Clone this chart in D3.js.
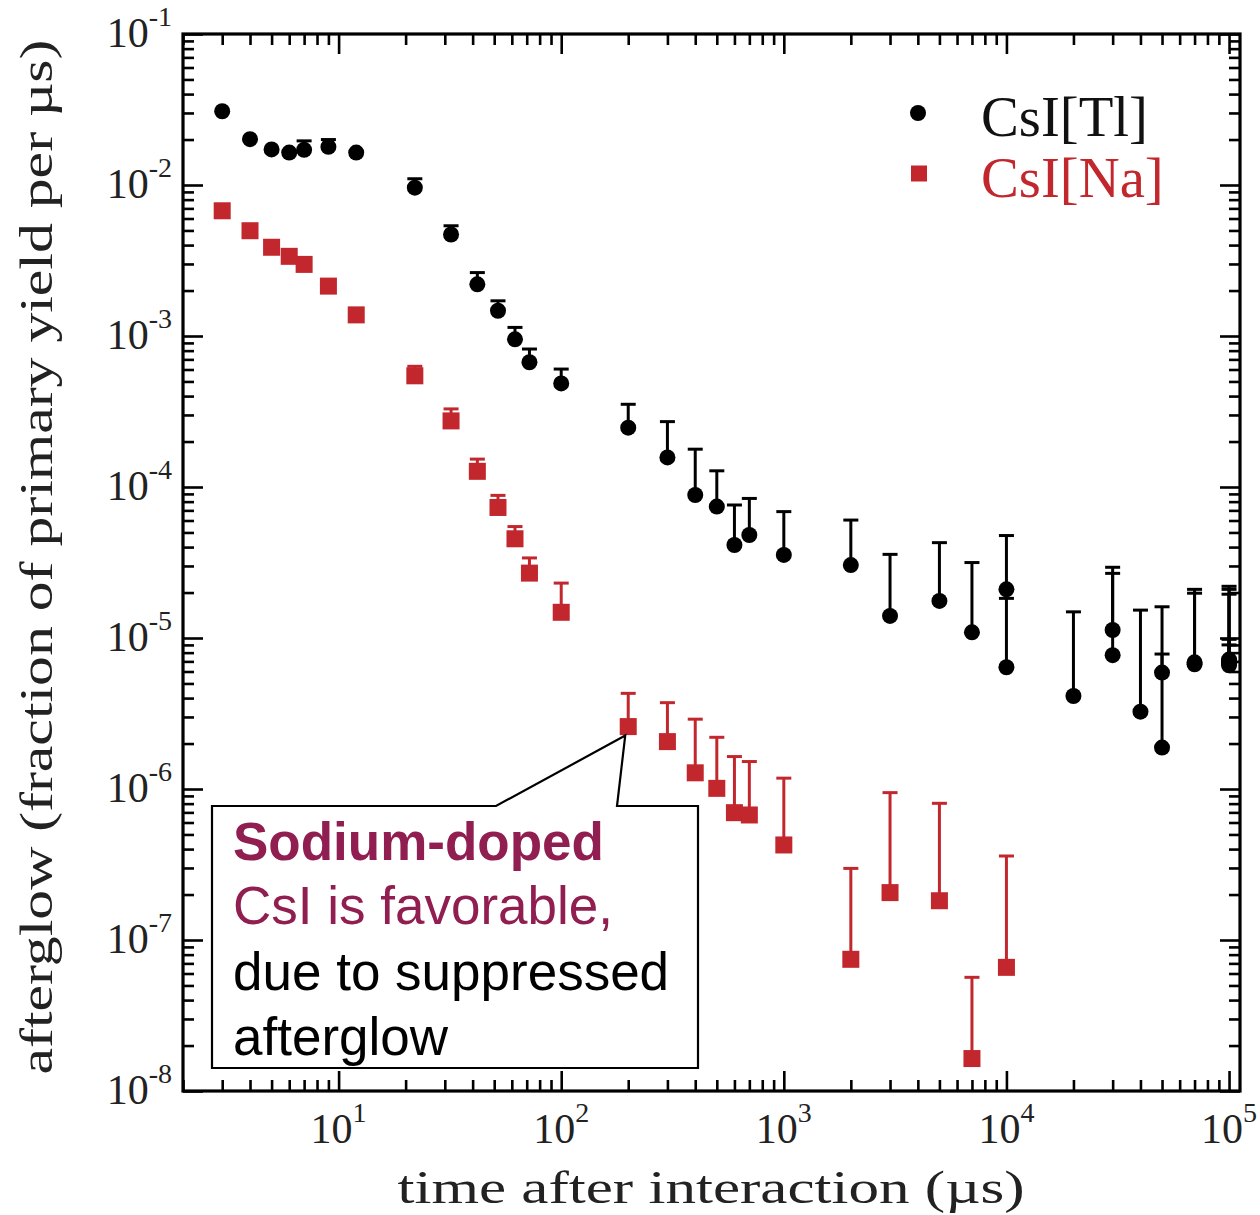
<!DOCTYPE html>
<html>
<head>
<meta charset="utf-8">
<script src="https://cdn.jsdelivr.net/npm/d3@7"></script>
<style>
  html, body { margin: 0; padding: 0; background: #fff; }
  svg { display: block; }
</style>
</head>
<body>
<svg id="chart" width="1260" height="1215"></svg>
<script>
// ---------------- data ----------------
const tlTime = [3,4,5,6,7,9,12,22,32,42,52,62,72,100,200,300,400,500,600,700,1000,2000,3000,5000,7000,10000,10000,20000,30000,30000,40000,50000,50000,70000,70000,100000,100000,100000,100000,100000];
const tlValue = [3.08e-2,2.01e-2,1.72e-2,1.64e-2,1.71e-2,1.79e-2,1.64e-2,9.6e-3,4.7e-3,2.2e-3,1.47e-3,9.5e-4,6.7e-4,4.85e-4,2.47e-4,1.57e-4,8.85e-5,7.42e-5,4.13e-5,4.81e-5,3.55e-5,3.04e-5,1.4e-5,1.76e-5,1.09e-5,2.1e-5,6.4e-6,4.13e-6,1.13e-5,7.7e-6,3.25e-6,5.9e-6,1.88e-6,6.7e-6,6.9e-6,7.0e-6,6.8e-6,7.2e-6,6.6e-6,7.0e-6];
const tlUpper = [null,null,null,null,1.96e-2,2.0e-2,null,1.1e-2,5.37e-3,2.63e-3,1.71e-3,1.14e-3,8.2e-4,6.04e-4,3.53e-4,2.71e-4,1.78e-4,1.28e-4,7.6e-5,8.4e-5,6.87e-5,6.04e-5,3.58e-5,4.28e-5,3.16e-5,4.77e-5,1.83e-5,1.49e-5,2.94e-5,2.68e-5,1.53e-5,1.61e-5,7.83e-6,2.1e-5,1.98e-5,2.2e-5,2.1e-5,1.95e-5,9.8e-6,9.0e-6];

const naTime = [3,4,5,6,7,9,12,22,32,42,52,62,72,100,200,300,400,500,600,700,1000,2000,3000,5000,7000,10000];
const naValue = [6.75e-3,4.98e-3,3.87e-3,3.37e-3,2.98e-3,2.14e-3,1.38e-3,5.45e-4,2.74e-4,1.27e-4,7.32e-5,4.54e-5,2.69e-5,1.48e-5,2.59e-6,2.06e-6,1.28e-6,1.01e-6,6.97e-7,6.73e-7,4.26e-7,7.45e-8,2.06e-7,1.82e-7,1.64e-8,6.59e-8];
const naUpper = [null,null,null,null,null,null,null,6.3e-4,3.29e-4,1.53e-4,8.8e-5,5.47e-5,3.39e-5,2.31e-5,4.3e-6,3.73e-6,2.9e-6,2.2e-6,1.64e-6,1.52e-6,1.18e-6,2.98e-7,9.46e-7,8.04e-7,5.66e-8,3.6e-7];

const xMajorExp = [1,2,3,4,5];
const yMajorExp = [-1,-2,-3,-4,-5,-6,-7,-8];
const seriesNames = ["CsI[Tl]", "CsI[Na]"];
const xTitle = "time after interaction (\u00b5s)";
const yTitle = "afterglow (fraction of primary yield per \u00b5s)";
const noteLines = ["Sodium-doped", "CsI is favorable,", "due to suppressed", "afterglow"];

// ---------------- layout ----------------
const L = 183, R = 1240, T = 34, B = 1091;
const black = "#000", red = "#c1272d", maroon = "#911e50";
const serif = "'Liberation Serif', 'DejaVu Serif', serif";
const sans = "'Liberation Sans', Arial, sans-serif";

const svg = d3.select("#chart");
const x = d3.scaleLog().domain([2, 1.12e5]).range([L, R]);
const y = d3.scaleLog().domain([1e-8, 1e-1]).range([B, T]);

const xMajor = xMajorExp.map(e => Math.pow(10, e));
const xMinor = [];
for (let e = 0; e <= 4; e++) for (let k = 2; k <= 9; k++) {
  const v = k * Math.pow(10, e);
  if (v >= 2 && v < 1.12e5) xMinor.push(v);
}
const yMajor = yMajorExp.map(e => Math.pow(10, e));
const yMinor = [];
for (let e = -8; e <= -2; e++) for (let k = 2; k <= 9; k++) yMinor.push(k * Math.pow(10, e));

const majLen = 20, minLen = 11;
function styleAxis(g) {
  g.select(".domain").remove();
  g.selectAll(".tick line").attr("stroke", "#000").attr("stroke-width", 2.6);
  g.selectAll(".tick text").remove();
}
function isMajor(v, majors) { return majors.some(m => Math.abs(Math.log10(v) - Math.log10(m)) < 1e-6); }

const gb = svg.append("g").attr("transform", `translate(0,${B})`)
  .call(d3.axisBottom(x).tickValues(xMajor.concat(xMinor)).tickSizeOuter(0));
gb.selectAll(".tick line").attr("y2", d => -(isMajor(d, xMajor) ? majLen : minLen));
styleAxis(gb);
const gt = svg.append("g").attr("transform", `translate(0,${T})`)
  .call(d3.axisTop(x).tickValues(xMajor.concat(xMinor)).tickSizeOuter(0));
gt.selectAll(".tick line").attr("y2", d => (isMajor(d, xMajor) ? majLen : minLen));
styleAxis(gt);
const gl = svg.append("g").attr("transform", `translate(${L},0)`)
  .call(d3.axisLeft(y).tickValues(yMajor.concat(yMinor)).tickSizeOuter(0));
gl.selectAll(".tick line").attr("x2", d => (isMajor(d, yMajor) ? majLen : minLen));
styleAxis(gl);
const gr = svg.append("g").attr("transform", `translate(${R},0)`)
  .call(d3.axisRight(y).tickValues(yMajor.concat(yMinor)).tickSizeOuter(0));
gr.selectAll(".tick line").attr("x2", d => -(isMajor(d, yMajor) ? majLen : minLen));
styleAxis(gr);

svg.append("rect").attr("x", L).attr("y", T).attr("width", R - L).attr("height", B - T)
  .attr("fill", "none").attr("stroke", "#000").attr("stroke-width", 3.2);

// tick labels
const xl = svg.append("g").attr("font-family", serif).attr("fill", "#222");
xMajorExp.forEach(e => {
  const t = xl.append("text").attr("x", x(Math.pow(10, e))).attr("y", 1143)
    .attr("text-anchor", "middle").attr("font-size", 42);
  t.append("tspan").text("10");
  t.append("tspan").attr("font-size", 28).attr("dy", -21).text(String(e));
});
const yl = svg.append("g").attr("font-family", serif).attr("fill", "#222");
yMajorExp.forEach(e => {
  const t = yl.append("text").attr("x", 172).attr("y", y(Math.pow(10, e)) + 13)
    .attr("text-anchor", "end").attr("font-size", 42);
  t.append("tspan").text("10");
  t.append("tspan").attr("font-size", 28).attr("dy", -21).text(String(e));
});

// axis titles: glyphs stretched slightly to the reference span (wider Computer-Modern-like look)
svg.append("text").attr("x", 711).attr("y", 1203).attr("text-anchor", "middle")
  .attr("font-family", serif).attr("font-size", 47).attr("fill", "#222")
  .attr("textLength", 627).attr("lengthAdjust", "spacingAndGlyphs").text(xTitle);
svg.append("text").attr("transform", "translate(52,557) rotate(-90)")
  .attr("text-anchor", "middle").attr("font-family", serif).attr("font-size", 46)
  .attr("fill", "#222").attr("textLength", 1035).attr("lengthAdjust", "spacingAndGlyphs").text(yTitle);

// data
const tl = tlTime.map((t, i) => ({t, v: tlValue[i], u: tlUpper[i]}));
const na = naTime.map((t, i) => ({t, v: naValue[i], u: naUpper[i]}));
const capW = 7.5;
function errBars(data, color) {
  const g = svg.append("g").attr("stroke", color).attr("stroke-width", 3);
  const d = data.filter(p => p.u != null);
  g.selectAll("line.v").data(d).join("line").attr("class", "v")
    .attr("x1", p => x(p.t)).attr("x2", p => x(p.t))
    .attr("y1", p => y(p.v)).attr("y2", p => y(p.u));
  g.selectAll("line.c").data(d).join("line").attr("class", "c")
    .attr("x1", p => x(p.t) - capW).attr("x2", p => x(p.t) + capW)
    .attr("y1", p => y(p.u)).attr("y2", p => y(p.u));
}
errBars(tl, black);
errBars(na, red);
svg.append("g").selectAll("circle").data(tl).join("circle")
  .attr("cx", p => x(p.t)).attr("cy", p => y(p.v)).attr("r", 8).attr("fill", black);
const sq = 17;
svg.append("g").selectAll("rect").data(na).join("rect")
  .attr("x", p => x(p.t) - sq / 2).attr("y", p => y(p.v) - sq / 2)
  .attr("width", sq).attr("height", sq).attr("fill", red);

// legend
svg.append("circle").attr("cx", 918).attr("cy", 113).attr("r", 8).attr("fill", black);
svg.append("rect").attr("x", 919 - sq / 2 + 0.5).attr("y", 174 - sq / 2).attr("width", sq - 1).attr("height", sq - 1).attr("fill", red);
const lg1 = svg.append("text").attr("x", 981).attr("y", 136).attr("font-family", serif)
  .attr("font-size", 54).attr("fill", "#111").text(seriesNames[0]);
const len1 = lg1.node().getComputedTextLength();
lg1.attr("font-size", 54 * 167 / len1);
svg.append("text").attr("x", 981).attr("y", 197).attr("font-family", serif)
  .attr("font-size", +lg1.attr("font-size")).attr("fill", red).text(seriesNames[1]);

// annotation callout
const target = na[naTime.indexOf(200)];
const tipX = x(target.t) - 3, tipY = y(target.v) + 9;
const bx0 = 212, bx1 = 698, by0 = 806, by1 = 1068;
svg.append("path")
  .attr("d", `M${bx0},${by0} L496,${by0} L${tipX},${tipY} L617,${by0} L${bx1},${by0} L${bx1},${by1} L${bx0},${by1} Z`)
  .attr("fill", "#fff").attr("stroke", "#000").attr("stroke-width", 2.2);
const noteColors = [maroon, maroon, "#000", "#000"];
const noteWeights = ["bold", "normal", "normal", "normal"];
const noteBase = [860, 924, 990, 1055];
noteLines.forEach((s, i) => {
  svg.append("text").attr("x", 233).attr("y", noteBase[i])
    .attr("font-family", sans).attr("font-size", 53)
    .attr("font-weight", noteWeights[i]).attr("fill", noteColors[i]).text(s);
});
</script>
</body>
</html>
